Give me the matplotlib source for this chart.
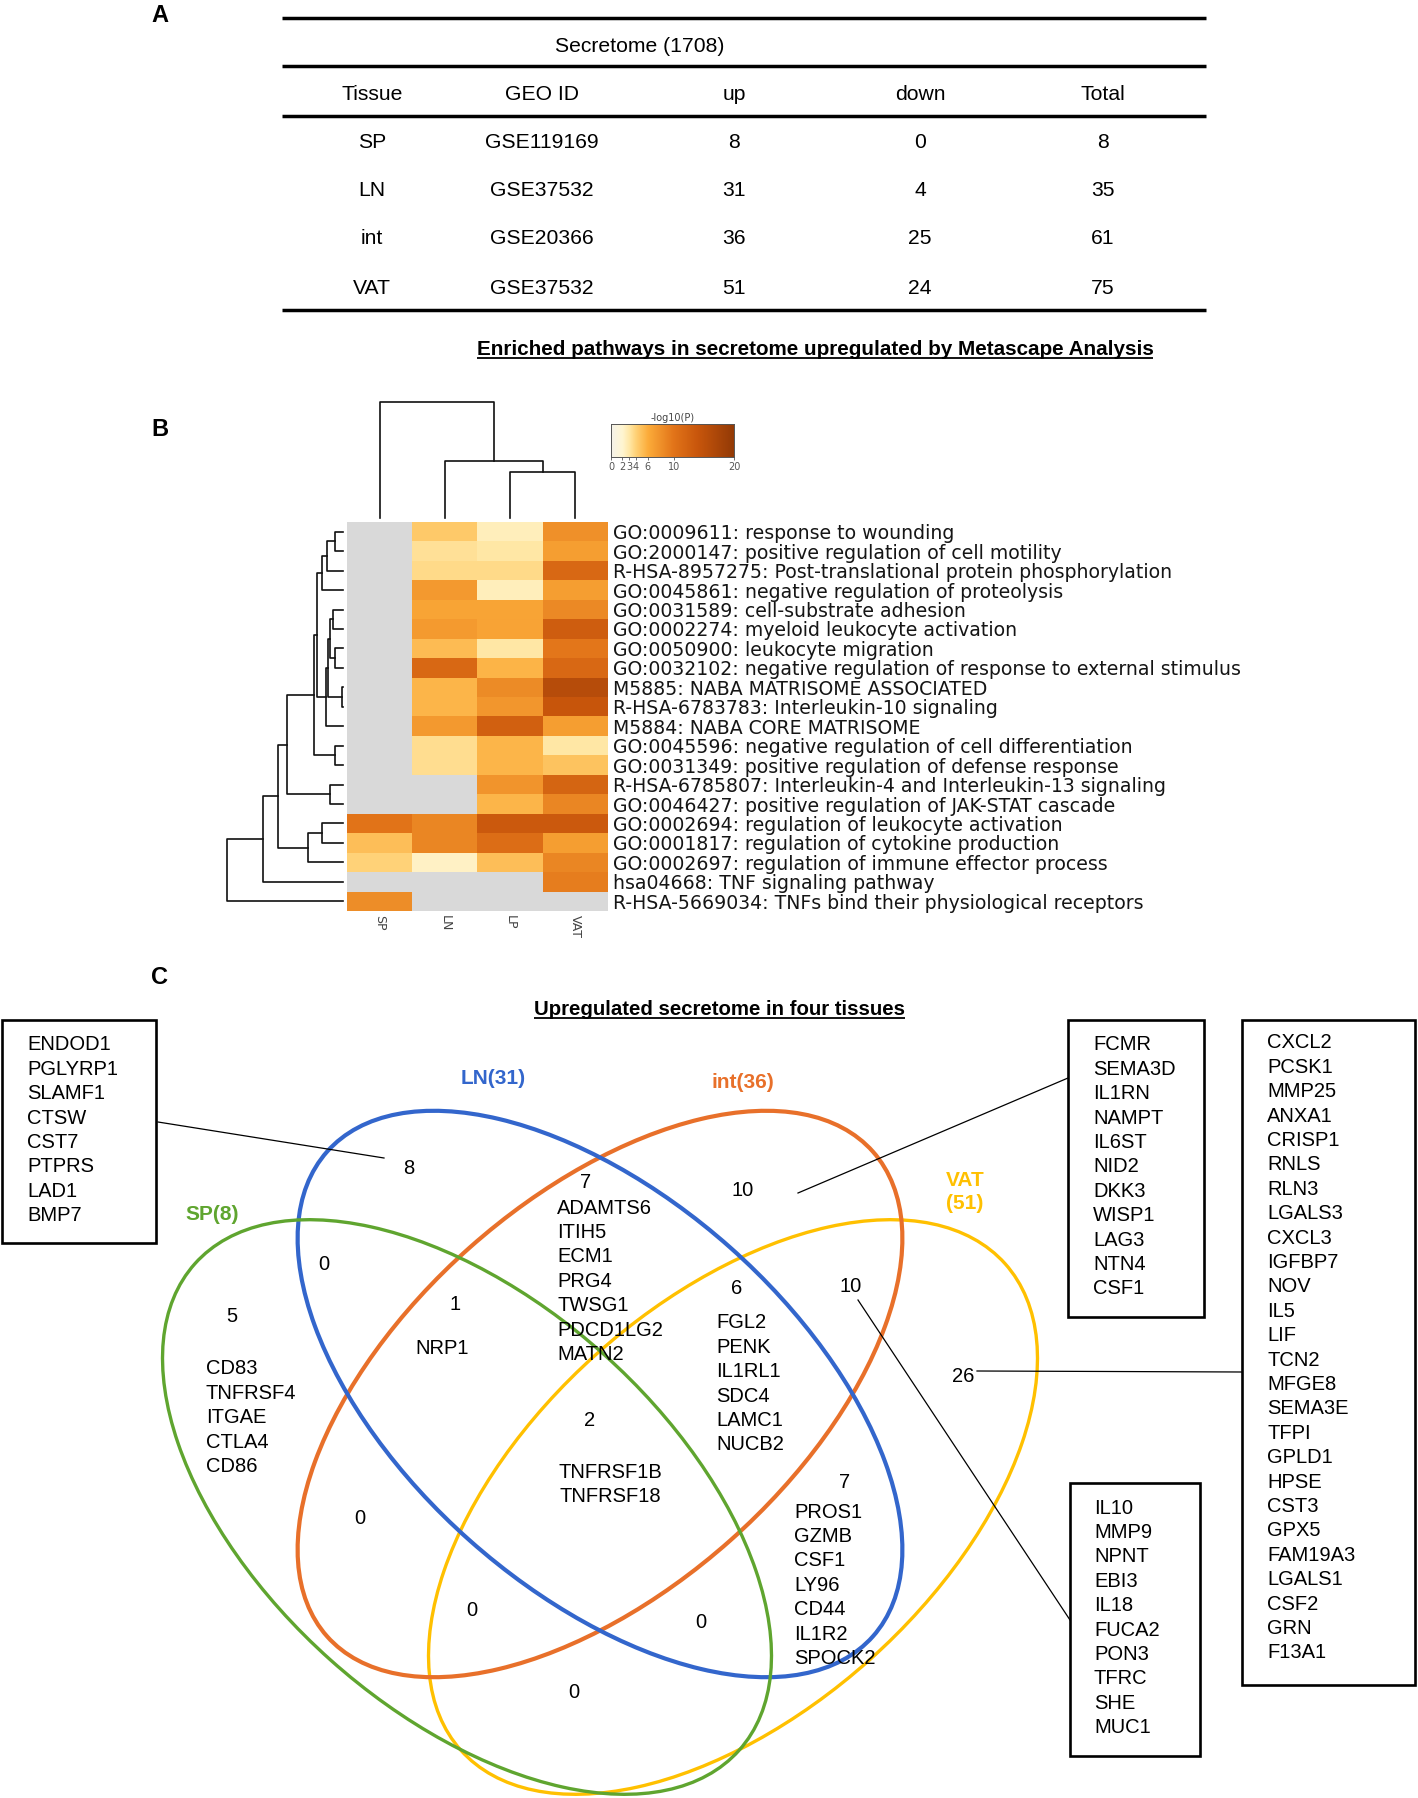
import numpy as np
import matplotlib
matplotlib.use("Agg")
import matplotlib.pyplot as plt
from matplotlib.colors import LinearSegmentedColormap
from matplotlib.patches import Ellipse, Rectangle
from matplotlib import font_manager as fm

# ================= Panel A data =================
secretome_total = 1708
table_header = ["Tissue", "GEO ID", "up", "down", "Total"]
tissues = ["SP", "LN", "int", "VAT"]
geo_ids = ["GSE119169", "GSE37532", "GSE20366", "GSE37532"]
n_up = [8, 31, 36, 51]
n_down = [0, 4, 25, 24]
n_total = [8, 35, 61, 75]

# ================= Panel B data =================
heat_cols = ["SP", "LN", "LP", "VAT"]
heat_rows = [
    "GO:0009611: response to wounding",
    "GO:2000147: positive regulation of cell motility",
    "R-HSA-8957275: Post-translational protein phosphorylation",
    "GO:0045861: negative regulation of proteolysis",
    "GO:0031589: cell-substrate adhesion",
    "GO:0002274: myeloid leukocyte activation",
    "GO:0050900: leukocyte migration",
    "GO:0032102: negative regulation of response to external stimulus",
    "M5885: NABA MATRISOME ASSOCIATED",
    "R-HSA-6783783: Interleukin-10 signaling",
    "M5884: NABA CORE MATRISOME",
    "GO:0045596: negative regulation of cell differentiation",
    "GO:0031349: positive regulation of defense response",
    "R-HSA-6785807: Interleukin-4 and Interleukin-13 signaling",
    "GO:0046427: positive regulation of JAK-STAT cascade",
    "GO:0002694: regulation of leukocyte activation",
    "GO:0001817: regulation of cytokine production",
    "GO:0002697: regulation of immune effector process",
    "hsa04668: TNF signaling pathway",
    "R-HSA-5669034: TNFs bind their physiological receptors",
]
nan = np.nan
logp_SP = [nan] * 15 + [10.0, 5.0, 4.0, nan, 8.2]
logp_LN = [4.5, 3.3, 3.6, 7.3, 6.5, 7.2, 5.2, 11.5, 5.5, 5.5, 7.3, 3.5, 3.5, nan, nan, 8.7, 8.7, 2.3, nan, nan]
logp_LP = [2.5, 3.0, 3.6, 2.5, 6.5, 6.6, 3.0, 5.6, 8.3, 7.5, 12.5, 5.5, 5.5, 7.7, 5.5, 13.5, 10.8, 5.0, nan, nan]
logp_VAT = [8.0, 7.0, 11.5, 7.0, 8.5, 13.0, 9.8, 11.5, 16.0, 14.0, 7.0, 3.0, 4.8, 12.0, 8.7, 13.5, 7.0, 8.7, 9.3, nan]
cbar_ticks = [0, 2, 3, 4, 6, 10, 20]
cbar_tick_pos = [0.0, 0.09, 0.15, 0.20, 0.30, 0.51, 1.0]
# dendrogram merges: (child a, child b, height); leaves are 0..n-1 in display order
row_merges = [(0, 1, 8), (20, 2, 16), (21, 3, 21), (4, 5, 10), (6, 7, 8), (23, 24, 13),
              (8, 9, 1), (25, 26, 15), (27, 10, 17), (22, 28, 26), (11, 12, 8), (29, 30, 29),
              (13, 14, 13), (31, 32, 56), (15, 16, 21), (34, 17, 35), (33, 35, 65),
              (36, 18, 80), (37, 19, 116)]
col_merges = [(2, 3, 46), (1, 4, 57), (0, 5, 116)]

# ================= Panel C data =================
venn_set_labels = ["LN(31)", "int(36)", "VAT\n(51)", "SP(8)"]
region_counts = [8, 5, 10, 26, 0, 7, 1, 6, 10, 2, 7, 0, 0, 0, 0]
genes_LN_only = ["ENDOD1", "PGLYRP1", "SLAMF1", "CTSW", "CST7", "PTPRS", "LAD1", "BMP7"]
genes_SP_only = ["CD83", "TNFRSF4", "ITGAE", "CTLA4", "CD86"]
genes_int_only = ["FCMR", "SEMA3D", "IL1RN", "NAMPT", "IL6ST", "NID2", "DKK3", "WISP1", "LAG3", "NTN4", "CSF1"]
genes_VAT_only = ["CXCL2", "PCSK1", "MMP25", "ANXA1", "CRISP1", "RNLS", "RLN3", "LGALS3", "CXCL3",
                  "IGFBP7", "NOV", "IL5", "LIF", "TCN2", "MFGE8", "SEMA3E", "TFPI", "GPLD1", "HPSE",
                  "CST3", "GPX5", "FAM19A3", "LGALS1", "CSF2", "GRN", "F13A1"]
genes_LN_int = ["ADAMTS6", "ITIH5", "ECM1", "PRG4", "TWSG1", "PDCD1LG2", "MATN2"]
genes_SP_LN_int = ["NRP1"]
genes_LN_int_VAT = ["FGL2", "PENK", "IL1RL1", "SDC4", "LAMC1", "NUCB2"]
genes_int_VAT = ["IL10", "MMP9", "NPNT", "EBI3", "IL18", "FUCA2", "PON3", "TFRC", "SHE", "MUC1"]
genes_all = ["TNFRSF1B", "TNFRSF18"]
genes_LN_VAT = ["PROS1", "GZMB", "CSF1", "LY96", "CD44", "IL1R2", "SPOCK2"]

# ================= fonts =================
def has_font(name):
    try:
        fm.findfont(fm.FontProperties(family=name), fallback_to_default=False)
        return True
    except Exception:
        return False

NARROW_OK = has_font("Liberation Sans Narrow")
NARROW = "Liberation Sans Narrow" if NARROW_OK else "Liberation Sans"
GS = 16.5 if NARROW_OK else 14.5      # gene text size
TS = 17 if NARROW_OK else 15.2        # table text size
plt.rcParams["font.family"] = ["Liberation Sans", "DejaVu Sans"]

W, H = 1418, 1798
fig = plt.figure(figsize=(W / 100, H / 100), dpi=100)
ov = fig.add_axes([0, 0, 1, 1])
ov.set_xlim(0, W)
ov.set_ylim(H, 0)
ov.axis("off")
R = fig.canvas.get_renderer()


def fax(x0, y0, x1, y1):
    return fig.add_axes([x0 / W, 1 - y1 / H, (x1 - x0) / W, (y1 - y0) / H])


def fit_width(t, w):
    bb = t.get_window_extent(renderer=R)
    t.set_fontsize(t.get_fontsize() * w / bb.width)


def underline(t, y):
    bb = t.get_window_extent(renderer=R)
    ov.plot([bb.x0, bb.x1], [y, y], color="black", lw=1.3, solid_capstyle="butt")


# ---------- panel letters ----------
for letter, (lx, ly) in zip("ABC", [(160, 16), (160, 430), (160, 977)]):
    ov.text(lx, ly, letter, fontsize=17, fontweight="bold", ha="center", va="center")

# ---------- Panel A: table ----------
TX0, TX1 = 282, 1206
for y in [18, 66, 116, 310]:
    ov.plot([TX0, TX1], [y, y], color="black", lw=2.5, solid_capstyle="butt")
tfont = dict(family=[NARROW, "DejaVu Sans"], fontsize=TS, ha="center", va="center")
ov.text(640, 46, f"Secretome ({secretome_total})", **tfont)
col_x = [372, 542, 734, 920, 1103]
for x, h in zip(col_x, table_header):
    ov.text(x, 95, h, **tfont)
row_y = [143, 191, 239, 288]
for i, y in enumerate(row_y):
    vals = [tissues[i], geo_ids[i], str(n_up[i]), str(n_down[i]), str(n_total[i])]
    for x, v in zip(col_x, vals):
        ov.text(x, y, v, **tfont)

t1 = ov.text(815, 355, "Enriched pathways in secretome upregulated by Metascape Analysis",
             family=[NARROW, "DejaVu Sans"], fontsize=16, fontweight="bold", ha="center", va="baseline")
fit_width(t1, 674)
underline(t1, 358)

# ---------- Panel B: heatmap ----------
cmap = LinearSegmentedColormap.from_list(
    "mscape",
    [(0.0, "#F4F2EA"), (0.10, "#FFF6D2"), (0.15, "#FFE7A5"), (0.20, "#FFD278"),
     (0.30, "#FCAC3A"), (0.50, "#E27419"), (0.70, "#C8560C"), (1.0, "#933A06")])
cmap.set_bad("#D9D9D9")

M = np.array([logp_SP, logp_LN, logp_LP, logp_VAT], dtype=float).T
hax = fax(347, 522, 608, 911)
hax.imshow(np.ma.masked_invalid(M), cmap=cmap, vmin=0, vmax=20, aspect="auto",
           interpolation="nearest")
hax.set_xticks(range(len(heat_cols)), heat_cols, rotation=-90, fontsize=9,
               family="DejaVu Sans", color="#444444")
hax.set_yticks(range(len(heat_rows)), heat_rows, fontsize=13.6, family="DejaVu Sans", color="#151515")
hax.yaxis.tick_right()
hax.tick_params(axis="y", length=0, pad=3.5)
hax.tick_params(axis="x", length=0, pad=3)
for s in hax.spines.values():
    s.set_visible(False)


def draw_dendro(ax, merges, n, vertical):
    pos = {i: i + 0.5 for i in range(n)}
    hgt = {i: 0.0 for i in range(n)}
    k = n
    for a, b, h in merges:
        pa, pb, ha_, hb = pos[a], pos[b], hgt[a], hgt[b]
        if vertical:
            ax.plot([pa, pa, pb, pb], [ha_, h, h, hb], color="#111111", lw=1.2, clip_on=False)
        else:
            ax.plot([ha_, h, h, hb], [pa, pa, pb, pb], color="#111111", lw=1.2, clip_on=False)
        pos[k] = (pa + pb) / 2
        hgt[k] = h
        k += 1


rdax = fax(227, 522, 343, 911)
draw_dendro(rdax, row_merges, len(heat_rows), vertical=False)
rdax.set_xlim(116, 0)
rdax.set_ylim(len(heat_rows), 0)
rdax.axis("off")

cdax = fax(347, 402, 608, 518)
draw_dendro(cdax, col_merges, len(heat_cols), vertical=True)
cdax.set_xlim(0, len(heat_cols))
cdax.set_ylim(0, 116)
cdax.axis("off")

cax = fax(611, 424, 734, 457)
fpos = np.linspace(0, 1, 500)
cax.imshow(np.interp(fpos, cbar_tick_pos, cbar_ticks)[None, :], cmap=cmap, vmin=0, vmax=20,
           aspect="auto", extent=[0, 1, 0, 1], interpolation="bilinear")
cax.set_xlim(0, 1)
cax.set_xticks(cbar_tick_pos, [str(t) for t in cbar_ticks])
cax.set_yticks([])
cax.tick_params(axis="x", length=2.5, width=0.6, labelsize=7, colors="#555555", pad=1)
for lbl in cax.get_xticklabels():
    lbl.set_family("DejaVu Sans")
for s in cax.spines.values():
    s.set_linewidth(0.7)
    s.set_color("#555555")
cax.set_title("-log10(P)", fontsize=7, color="#444444", pad=2, family="DejaVu Sans")

# ---------- Panel C: Venn ----------
t2 = ov.text(719, 1015, "Upregulated secretome in four tissues",
             family=[NARROW, "DejaVu Sans"], fontsize=16, fontweight="bold", ha="center", va="baseline")
fit_width(t2, 371)
underline(t2, 1018)

set_colors = ["#3366CC", "#E8702A", "#FFC000", "#5FA52F"]
# ellipse geometry: (cx, cy, width, height, angle, linewidth)
venn_geom = [(600, 1394, 730, 392, 41.6, 3.0),
             (600, 1394, 730, 392, 138.4, 3.0),
             (733, 1507, 730, 410, -41.8, 2.4),
             (467, 1507, 730, 410, 41.8, 2.4)]
for idx in [2, 1, 0, 3]:
    cx, cy, w, h, ang, lw = venn_geom[idx]
    ov.add_patch(Ellipse((cx, cy), w, h, angle=ang, fill=False, ec=set_colors[idx], lw=lw))

set_label_pos = [(493, 1078), (743, 1082), (965, 1192), (212, 1215)]
for lab, (x, y), c in zip(venn_set_labels, set_label_pos, set_colors):
    ov.text(x, y, lab, color=c, family=[NARROW, "DejaVu Sans"], fontsize=GS + 0.5,
            fontweight="bold", ha="center", va="center", linespacing=1.3)

gfont = dict(family=[NARROW, "DejaVu Sans"], fontsize=GS, va="center")
count_pos = [(409, 1169), (232, 1316), (743, 1190), (963, 1377), (324, 1264), (586, 1182),
             (455, 1305), (737, 1288), (851, 1287), (590, 1421), (845, 1482), (360, 1518),
             (472, 1610), (701, 1622), (574, 1693)]
for n, (x, y) in zip(region_counts, count_pos):
    ov.text(x, y, str(n), ha="center", **gfont)

STEP = 24.4


def gene_list(genes, x, y0, ha="left"):
    for i, g in enumerate(genes):
        ov.text(x, y0 + i * STEP, g, ha=ha, **gfont)


gene_list(genes_SP_only, 206, 1369)
gene_list(genes_SP_LN_int, 442, 1348, ha="center")
gene_list(genes_LN_int, 557, 1208)
gene_list(genes_LN_int_VAT, 716, 1323)
gene_list(genes_all, 610, 1472, ha="center")
gene_list(genes_LN_VAT, 794, 1512)

# call-out boxes
boxes = [((2, 1020, 156, 1243), genes_LN_only, 27, 1045),
         ((1068, 1020, 1204, 1317), genes_int_only, 1093, 1045),
         ((1242, 1020, 1415, 1685), genes_VAT_only, 1267, 1043),
         ((1070, 1483, 1200, 1756), genes_int_VAT, 1094, 1508)]
for (x0, y0, x1, y1), genes, tx, ty in boxes:
    ov.add_patch(Rectangle((x0, y0), x1 - x0, y1 - y0, fill=False, ec="black", lw=1.9))
    gene_list(genes, tx, ty)

connectors = [((158, 1122), (384, 1158)), ((798, 1193), (1068, 1078)),
              ((858, 1300), (1070, 1620)), ((977, 1371), (1242, 1372))]
for (xa, ya), (xb, yb) in connectors:
    ov.plot([xa, xb], [ya, yb], color="black", lw=0.9)

fig.savefig("out.png", dpi=100, facecolor="white")
